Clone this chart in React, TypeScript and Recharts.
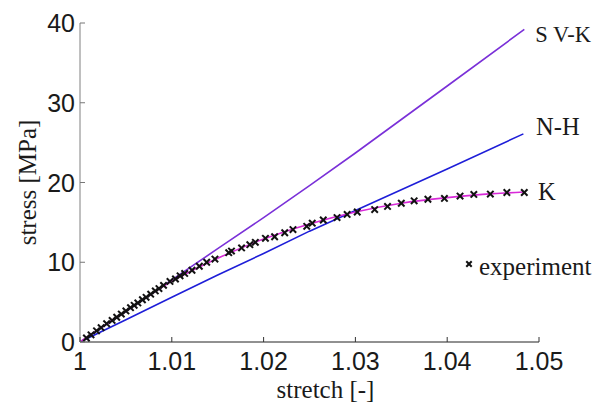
import React from 'react';
import { ComposedChart, Line, Scatter, XAxis, YAxis, Legend } from 'recharts';

const xTicks = [1, 1.01, 1.02, 1.03, 1.04, 1.05];
const yTicks = [0, 10, 20, 30, 40];

const svkStretch = [1, 1.005, 1.01, 1.015, 1.02, 1.025, 1.03, 1.035, 1.04, 1.0484];
const svkStress = [0, 3.8, 7.8, 11.7, 15.6, 19.6, 23.7, 27.9, 32.1, 39.2];

const nhStretch = [1, 1.005, 1.01, 1.015, 1.02, 1.025, 1.03, 1.035, 1.04, 1.0483];
const nhStress = [0, 2.8, 5.6, 8.4, 11.1, 13.9, 16.5, 19.1, 21.7, 26.1];

const kStretch = [1, 1.005, 1.01, 1.015, 1.02, 1.025, 1.03, 1.035, 1.04, 1.045, 1.0484];
const kStress = [0, 3.9, 7.6, 10.5, 12.9, 14.8, 16.3, 17.4, 18.1, 18.6, 18.8];

const expStretch = [
  1.0007, 1.0012, 1.0018, 1.0023, 1.0029, 1.0035, 1.004, 1.0045, 1.005, 1.0055,
  1.0059, 1.0063, 1.0068, 1.0072, 1.0077, 1.0082, 1.0086, 1.0091, 1.0098, 1.0104,
  1.0109, 1.0114, 1.0122, 1.013, 1.0138, 1.0147, 1.0162, 1.0165, 1.0176, 1.0185,
  1.0191, 1.0202, 1.0212, 1.0223, 1.0232, 1.0247, 1.0253, 1.0265, 1.028, 1.0291,
  1.0302, 1.0321, 1.0335, 1.035, 1.0364, 1.0379, 1.0397, 1.0414, 1.0429, 1.0447,
  1.0465, 1.0484,
];
const expStress = [
  0.5, 0.9, 1.4, 1.8, 2.3, 2.7, 3.1, 3.5, 3.9, 4.3,
  4.6, 4.9, 5.3, 5.6, 6.0, 6.4, 6.7, 7.1, 7.6, 7.9,
  8.3, 8.6, 9.0, 9.5, 10.0, 10.4, 11.2, 11.4, 11.8, 12.2,
  12.5, 13.0, 13.2, 13.7, 14.1, 14.5, 14.9, 15.3, 15.6, 16.0,
  16.3, 16.6, 17.0, 17.4, 17.7, 17.9, 18.0, 18.3, 18.5, 18.55,
  18.75, 18.75,
];

const zip = (xs: number[], ys: number[]) => xs.map((x, i) => ({ x, y: ys[i] }));
const svkData = zip(svkStretch, svkStress);
const nhData = zip(nhStretch, nhStress);
const kData = zip(kStretch, kStress);
const expData = zip(expStretch, expStress);

const SANS = '"Liberation Sans", Arial, sans-serif';
const SERIF = '"Liberation Serif", "Times New Roman", serif';
const TEXT = '#1a1a1a';

const YTick = (props: any) => {
  const { x, y, payload } = props;
  return (
    <g>
      <line x1={x + 5} x2={x + 10} y1={y} y2={y} stroke="#777" strokeWidth={1} />
      <text x={x} y={y} dy={9} textAnchor="end" fontFamily={SANS} fontSize={25} fill={TEXT}>
        {String(payload.value)}
      </text>
    </g>
  );
};

const XTick = (props: any) => {
  const { x, y, payload } = props;
  return (
    <g>
      <line x1={x} x2={x} y1={y - 10} y2={y - 15} stroke="#333" strokeWidth={1} />
      <text x={x} y={y} dy={18} textAnchor="middle" fontFamily={SANS} fontSize={25} fill={TEXT}>
        {String(payload.value)}
      </text>
    </g>
  );
};

const endLabel = (name: string, lastIndex: number, dx: number, dy: number, size: number) => (props: any) => {
  const { x, y, index } = props;
  if (index !== lastIndex) return null;
  return (
    <text x={x + dx} y={y + dy} fontFamily={SERIF} fontSize={size} fill={TEXT}>
      {name}
    </text>
  );
};

const XMark = (props: any) => {
  const { cx, cy } = props;
  const s = 3.2;
  return (
    <g stroke="#111" strokeWidth={2}>
      <line x1={cx - s} y1={cy - s} x2={cx + s} y2={cy + s} />
      <line x1={cx - s} y1={cy + s} x2={cx + s} y2={cy - s} />
    </g>
  );
};

const LegendContent = () => (
  <svg width={140} height={32} style={{ display: 'block', overflow: 'visible' }}>
    <g stroke="#111" strokeWidth={2}>
      <line x1={2.3} y1={8.3} x2={7.7} y2={13.7} />
      <line x1={2.3} y1={13.7} x2={7.7} y2={8.3} />
    </g>
    <text x={15} y={22} fontFamily={SERIF} fontSize={25} fill={TEXT}>
      experiment
    </text>
  </svg>
);

const YTitle = (props: any) => {
  const vb = props.viewBox || {};
  const cx = 19;
  const cy = (vb.y || 0) + (vb.height || 0) / 2;
  return (
    <text
      x={cx}
      y={cy}
      transform={`rotate(-90 ${cx} ${cy})`}
      textAnchor="middle"
      dominantBaseline="central"
      fontFamily={SERIF}
      fontSize={25}
      fill={TEXT}
    >
      stress [MPa]
    </text>
  );
};

const XTitle = (props: any) => {
  const vb = props.viewBox || {};
  const cx = (vb.x || 0) + (vb.width || 0) / 2 + 16;
  return (
    <text x={cx} y={389.7} textAnchor="middle" fontFamily={SERIF} fontSize={25} fill={TEXT}>
      stretch [-]
    </text>
  );
};

export default function App() {
  return (
    <ComposedChart
      width={595}
      height={397}
      margin={{ top: 15, right: 64, bottom: 0, left: 0 }}
      style={{ background: '#fff' }}
    >
      <XAxis
        type="number"
        dataKey="x"
        domain={[1, 1.05]}
        ticks={xTicks}
        allowDataOverflow
        height={63}
        tickSize={0}
        tickMargin={10}
        tickLine={false}
        axisLine={{ stroke: '#222', strokeWidth: 1 }}
        tick={<XTick />}
        label={<XTitle />}
      />
      <YAxis
        type="number"
        dataKey="y"
        domain={[0, 40]}
        ticks={yTicks}
        allowDataOverflow
        width={72}
        tickSize={0}
        tickMargin={5}
        tickLine={false}
        axisLine={{ stroke: '#808080', strokeWidth: 1 }}
        tick={<YTick />}
        label={<YTitle />}
      />
      <Line
        data={svkData}
        dataKey="y"
        type="linear"
        stroke="#7a30d8"
        strokeWidth={1.6}
        dot={false}
        isAnimationActive={false}
        label={endLabel('S V-K', svkData.length - 1, 11, 12.2, 22.5)}
      />
      <Line
        data={nhData}
        dataKey="y"
        type="linear"
        stroke="#1e1ed8"
        strokeWidth={1.6}
        dot={false}
        isAnimationActive={false}
        label={endLabel('N-H', nhData.length - 1, 12.7, 1, 24.5)}
      />
      <Line
        data={kData}
        dataKey="y"
        type="monotone"
        stroke="#d82ad8"
        strokeWidth={1.6}
        dot={false}
        isAnimationActive={false}
        label={endLabel('K', kData.length - 1, 13.7, 8, 24.5)}
      />
      <Scatter
        data={expData}
        dataKey="y"
        shape={<XMark />}
        isAnimationActive={false}
      />
      <Legend
        layout="horizontal"
        verticalAlign="middle"
        align="center"
        content={<LegendContent />}
        wrapperStyle={{ position: 'absolute', left: 456, top: 245, width: 140, height: 32, margin: 0 }}
      />
    </ComposedChart>
  );
}
